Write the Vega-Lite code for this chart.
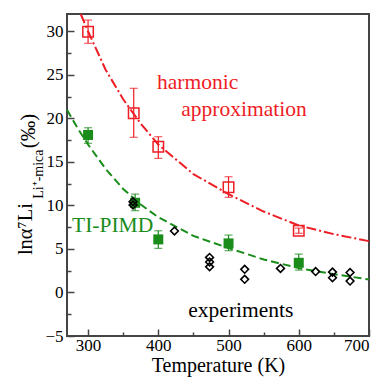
{
  "$schema": "https://vega.github.io/schema/vega-lite/v6.json",
  "width": 302,
  "height": 322,
  "autosize": {"type": "none"},
  "padding": {"left": 67, "top": 14, "right": 17, "bottom": 42},
  "background": "white",
  "config": {
    "view": {"stroke": "#444", "strokeWidth": 2},
    "font": "Liberation Serif",
    "axis": {
      "domain": false, "grid": false,
      "labelFont": "Liberation Serif", "titleFont": "Liberation Serif",
      "labelColor": "black", "titleColor": "black",
      "tickColor": "#444", "tickWidth": 1.5,
      "labelFontSize": 17, "titleFontSize": 20, "titleFontWeight": "normal"
    }
  },
  "datasets": {
    "curveH": [
      {"T": 289.5, "v": 32.0}, {"T": 300, "v": 30.0}, {"T": 325, "v": 25.6}, {"T": 350, "v": 22.2},
      {"T": 375, "v": 19.4}, {"T": 400, "v": 17.0}, {"T": 450, "v": 13.6}, {"T": 500, "v": 11.3},
      {"T": 550, "v": 9.3}, {"T": 600, "v": 7.7}, {"T": 650, "v": 6.7}, {"T": 700, "v": 5.9}
    ],
    "curveP": [
      {"T": 270, "v": 21.0}, {"T": 285, "v": 18.9}, {"T": 300, "v": 17.0}, {"T": 325, "v": 14.2},
      {"T": 350, "v": 11.9}, {"T": 375, "v": 10.1}, {"T": 400, "v": 8.65}, {"T": 450, "v": 6.5},
      {"T": 500, "v": 5.1}, {"T": 550, "v": 3.8}, {"T": 600, "v": 2.8}, {"T": 650, "v": 2.1},
      {"T": 700, "v": 1.5}
    ],
    "harm": [
      {"T": 300, "v": 29.97, "lo": 28.63, "hi": 31.3},
      {"T": 365, "v": 20.59, "lo": 17.83, "hi": 23.46},
      {"T": 400, "v": 16.75, "lo": 15.41, "hi": 17.9},
      {"T": 500, "v": 12.08, "lo": 10.93, "hi": 13.3},
      {"T": 600, "v": 7.1, "lo": 6.8, "hi": 7.4}
    ],
    "pimd": [
      {"T": 300, "v": 18.1, "lo": 17.14, "hi": 18.93},
      {"T": 367, "v": 10.31, "lo": 9.4, "hi": 11.31},
      {"T": 400, "v": 6.1, "lo": 5.07, "hi": 7.09},
      {"T": 500, "v": 5.64, "lo": 4.8, "hi": 6.6},
      {"T": 600, "v": 3.41, "lo": 2.57, "hi": 4.41}
    ],
    "exp": [
      {"T": 364, "v": 10.43}, {"T": 364, "v": 10.05}, {"T": 423, "v": 7.06},
      {"T": 473, "v": 4.03}, {"T": 473, "v": 3.5}, {"T": 473, "v": 2.95},
      {"T": 523, "v": 2.66}, {"T": 523, "v": 1.51}, {"T": 574, "v": 2.77},
      {"T": 624, "v": 2.4}, {"T": 648, "v": 2.34}, {"T": 648, "v": 1.7},
      {"T": 673, "v": 2.29}, {"T": 673, "v": 1.31}
    ],
    "redText": [
      {"label": "harmonic", "T": 456, "v": 23.35},
      {"label": "approximation", "T": 522, "v": 20.28}
    ],
    "greenText": [{"label": "TI-PIMD", "T": 335, "v": 6.9}],
    "blackText": [{"label": "experiments", "T": 517.5, "v": -2.86}],
    "ytitleMain": [
      {"label": "lnα⁷Li", "T": 220.2, "v": 7.29},
      {"label": "(‰)", "T": 224.4, "v": 18.55}
    ],
    "ytitleSub": [{"label": "Li⁺-mica", "T": 235.8, "v": 13.6}]
  },
  "layer": [
    {
      "data": {"name": "curveH"},
      "mark": {"type": "line", "color": "#ee1c24", "strokeWidth": 2, "strokeDash": [10, 3, 2, 3]},
      "encoding": {
        "x": {"field": "T", "type": "quantitative",
              "scale": {"domain": [270, 700], "nice": false, "zero": false},
              "axis": {"orient": "bottom", "values": [300, 400, 500, 600, 700], "tickSize": -7, "labelPadding": 8, "title": "Temperature (K)", "titlePadding": 2}},
        "y": {"field": "v", "type": "quantitative",
              "scale": {"domain": [-5, 32], "nice": false, "zero": false},
              "axis": {"orient": "left", "values": [-5, 0, 5, 10, 15, 20, 25, 30], "tickSize": -7, "labelPadding": 11, "title": null}}
      }
    },
    {
      "data": {"name": "curveP"},
      "mark": {"type": "line", "color": "#1a8c1a", "strokeWidth": 2, "strokeDash": [8, 4]},
      "encoding": {
        "x": {"field": "T", "type": "quantitative",
              "scale": {"domain": [270, 700], "nice": false, "zero": false},
              "axis": {"orient": "bottom", "values": [350, 450, 550, 650], "tickSize": -4, "labels": false, "title": null}},
        "y": {"field": "v", "type": "quantitative",
              "scale": {"domain": [-5, 32], "nice": false, "zero": false},
              "axis": {"orient": "left", "values": [-2.5, 2.5, 7.5, 12.5, 17.5, 22.5, 27.5], "tickSize": -4, "labels": false, "title": null}}
      }
    },
    {
      "data": {"name": "harm"},
      "mark": {"type": "errorbar", "ticks": {"size": 8, "thickness": 1.2}, "color": "#ee1c24", "thickness": 1.2},
      "encoding": {
        "x": {"field": "T", "type": "quantitative", "axis": null},
        "y": {"field": "lo", "type": "quantitative", "axis": null},
        "y2": {"field": "hi"}
      }
    },
    {
      "data": {"name": "pimd"},
      "mark": {"type": "errorbar", "ticks": {"size": 8, "thickness": 1.2}, "color": "#1a8c1a", "thickness": 1.2},
      "encoding": {
        "x": {"field": "T", "type": "quantitative", "axis": null},
        "y": {"field": "lo", "type": "quantitative", "axis": null},
        "y2": {"field": "hi"}
      }
    },
    {
      "data": {"name": "harm"},
      "mark": {"type": "point", "shape": "square", "filled": false, "fill": "white", "fillOpacity": 0, "stroke": "#ee1c24", "strokeWidth": 1.5, "size": 110, "opacity": 1},
      "encoding": {
        "x": {"field": "T", "type": "quantitative", "axis": null},
        "y": {"field": "v", "type": "quantitative", "axis": null}
      }
    },
    {
      "data": {"name": "pimd"},
      "mark": {"type": "point", "shape": "square", "filled": true, "color": "#1a8c1a", "size": 100, "opacity": 1},
      "encoding": {
        "x": {"field": "T", "type": "quantitative", "axis": null},
        "y": {"field": "v", "type": "quantitative", "axis": null}
      }
    },
    {
      "data": {"name": "exp"},
      "mark": {"type": "point", "shape": "diamond", "filled": false, "stroke": "black", "strokeWidth": 1.6, "size": 60, "opacity": 1},
      "encoding": {
        "x": {"field": "T", "type": "quantitative", "axis": null},
        "y": {"field": "v", "type": "quantitative", "axis": null}
      }
    },
    {
      "data": {"name": "redText"},
      "mark": {"type": "text", "color": "#ee1c24", "font": "Liberation Serif", "fontSize": 21.5, "align": "center", "baseline": "alphabetic"},
      "encoding": {
        "x": {"field": "T", "type": "quantitative", "axis": null},
        "y": {"field": "v", "type": "quantitative", "axis": null},
        "text": {"field": "label"}
      }
    },
    {
      "data": {"name": "greenText"},
      "mark": {"type": "text", "color": "#1a8c1a", "font": "Liberation Serif", "fontSize": 21.5, "align": "center", "baseline": "alphabetic"},
      "encoding": {
        "x": {"field": "T", "type": "quantitative", "axis": null},
        "y": {"field": "v", "type": "quantitative", "axis": null},
        "text": {"field": "label"}
      }
    },
    {
      "data": {"name": "blackText"},
      "mark": {"type": "text", "color": "black", "font": "Liberation Serif", "fontSize": 21.5, "align": "center", "baseline": "alphabetic"},
      "encoding": {
        "x": {"field": "T", "type": "quantitative", "axis": null},
        "y": {"field": "v", "type": "quantitative", "axis": null},
        "text": {"field": "label"}
      }
    },
    {
      "data": {"name": "ytitleMain"},
      "mark": {"type": "text", "color": "black", "font": "Liberation Serif", "fontSize": 20.5, "align": "center", "baseline": "alphabetic", "angle": 270},
      "encoding": {
        "x": {"field": "T", "type": "quantitative", "axis": null},
        "y": {"field": "v", "type": "quantitative", "axis": null},
        "text": {"field": "label"}
      }
    },
    {
      "data": {"name": "ytitleSub"},
      "mark": {"type": "text", "color": "black", "font": "Liberation Serif", "fontSize": 14, "align": "center", "baseline": "alphabetic", "angle": 270},
      "encoding": {
        "x": {"field": "T", "type": "quantitative", "axis": null},
        "y": {"field": "v", "type": "quantitative", "axis": null},
        "text": {"field": "label"}
      }
    }
  ],
  "resolve": {"axis": {"x": "independent", "y": "independent"}}
}
